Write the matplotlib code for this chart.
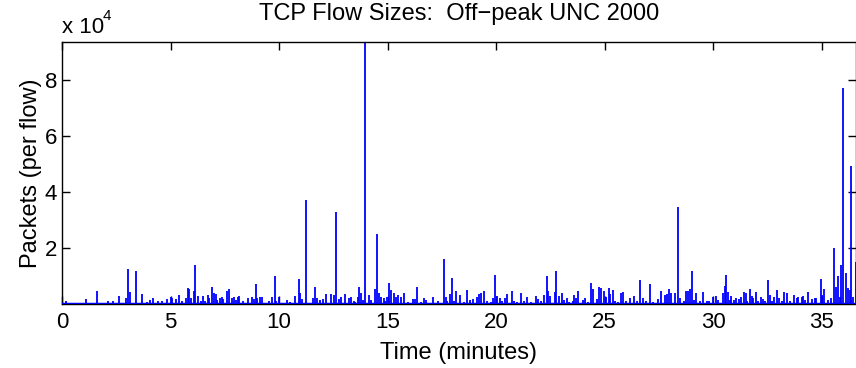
import numpy as np
import matplotlib
matplotlib.use('Agg')
import matplotlib.pyplot as plt

plt.rcParams['font.family'] = ['Liberation Sans', 'DejaVu Sans']

# flow start time (minutes) and flow size (packets)
t_min = [0.17, 1.09, 1.60, 2.13, 2.37, 2.61, 2.93, 3.03, 3.15, 3.41, 3.67, 3.93, 4.06, 4.18,
         4.44, 4.59, 4.85, 5.00, 5.08, 5.24, 5.38, 5.53, 5.71, 5.79, 5.85, 5.94, 6.07, 6.14,
         6.27, 6.41, 6.48, 6.60, 6.71, 6.79, 6.91, 7.00, 7.08, 7.16, 7.28, 7.36,
         7.40, 7.62, 7.71, 7.83, 7.91, 8.02, 8.11, 8.17, 8.33, 8.57, 8.74, 8.83, 8.93, 9.00,
         9.11, 9.22, 9.52, 9.68, 9.80, 9.88, 10.01, 10.37, 10.52, 10.72, 10.91, 10.98, 11.06,
         11.26, 11.55, 11.66, 11.75, 11.87, 12.01, 12.15, 12.40, 12.53, 12.61, 12.78, 12.87,
         13.06, 13.21, 13.30, 13.44, 13.52, 13.64, 13.67, 13.76, 13.86, 13.96, 14.13, 14.23,
         14.41, 14.52, 14.59, 14.71, 14.82, 14.90,
         14.99, 15.08, 15.17, 15.30, 15.39, 15.48, 15.61, 15.76, 15.94, 16.16, 16.25, 16.37,
         16.53, 16.68, 16.79, 17.11, 17.30, 17.60, 17.68, 17.76, 17.88, 17.97, 18.06, 18.14,
         18.34, 18.53, 18.68, 18.80, 18.95, 19.11, 19.20, 19.31, 19.46, 19.60, 19.75, 19.86,
         19.94, 20.03, 20.17, 20.29, 20.40, 20.52, 20.71, 20.83, 20.95, 21.14, 21.29, 21.44,
         21.63, 21.83, 21.95, 22.06, 22.21, 22.34, 22.41,
         22.50, 22.69, 22.77, 22.92, 23.03, 23.15, 23.26, 23.38, 23.53, 23.61, 23.69, 23.76,
         24.00, 24.11, 24.23, 24.35, 24.48, 24.64, 24.73, 24.81, 24.95, 25.07, 25.19, 25.25,
         25.38, 25.50, 25.61, 25.76, 25.84, 25.99, 26.18, 26.37, 26.48, 26.64, 26.76, 26.91,
         27.11, 27.22, 27.45, 27.60, 27.79, 27.87, 27.96, 28.05, 28.22, 28.40, 28.49, 28.65,
         28.76, 28.86, 28.95, 29.02, 29.11, 29.22, 29.37, 29.55, 29.71, 29.83,
         30.00, 30.15, 30.23, 30.46, 30.54, 30.58, 30.66, 30.77, 30.84, 30.97, 31.07, 31.20,
         31.30, 31.40, 31.51, 31.58, 31.69, 31.77, 31.84, 31.97, 32.07, 32.20, 32.30, 32.41,
         32.53, 32.61, 32.72, 32.81, 32.92, 33.03, 33.15, 33.27, 33.38, 33.53, 33.73, 33.84,
         33.92, 34.07, 34.15, 34.25, 34.39, 34.53, 34.69, 34.76, 34.96, 35.02, 35.12, 35.30,
         35.45, 35.56, 35.65, 35.76, 35.84, 35.91, 35.98, 36.14, 36.22, 36.29, 36.33, 36.37,
         36.46, 36.56]
packets = [1200, 1800, 4800, 950, 1200, 2900, 2100, 12400, 4300, 11700, 3600, 850, 1400, 2000,
           950, 1200, 1700, 2600, 2000, 1700, 3200, 1200, 2000, 5600, 5500, 2300, 4500, 13800,
           3000, 1200, 2900, 1200, 3200, 2000, 6100, 3800, 3600, 1400, 2000, 2600,
           1700, 4800, 5200, 2000, 2400, 1400, 2400, 2900, 1200, 2000, 2400, 1700, 7000, 2000,
           2400, 2400, 1200, 2600, 10100, 1200, 2600, 1400, 850, 3000, 8900, 4000, 1700,
           37100, 2300, 6000, 2000, 1400, 1800, 3500, 3500, 3200, 33000, 1700, 2400,
           3500, 2300, 2600, 1200, 850, 2600, 6200, 3800, 1400, 93570, 3100, 1400,
           5200, 25000, 3800, 2400, 2000, 1200,
           2600, 7600, 5000, 3800, 2600, 3200, 2400, 4000, 850, 1700, 1700, 6200,
           850, 2300, 1400, 2600, 1100, 16000, 2600, 1100, 3600, 9400, 1100, 4600,
           3100, 850, 4900, 1400, 1800, 2600, 3600, 3800, 4500, 1200, 850, 2000,
           10400, 2900, 2000, 1200, 2300, 3600, 4600, 1200, 850, 4000, 1200, 2400,
           850, 2900, 1700, 1200, 3200, 10100, 4800,
           2900, 4400, 11700, 2900, 3800, 1400, 2000, 850, 1200, 3200, 2000, 4600,
           1400, 2000, 850, 7400, 5200, 1800, 6000, 5600, 4600, 2600, 5600, 3600,
           5000, 1200, 850, 4000, 4300, 1200, 2000, 2900, 1200, 8600, 2000, 1100,
           7100, 850, 1700, 4800, 3200, 3500, 5200, 3800, 4000, 34500, 2000, 1200,
           4600, 4600, 5200, 11900, 1400, 4000, 1200, 4400, 1200, 1200,
           2600, 2900, 1400, 3800, 6400, 10200, 4300, 1400, 2900, 1400, 2300, 1700,
           2600, 4300, 3800, 1200, 5200, 2900, 2300, 4300, 1200, 2400, 1900, 1200,
           8600, 3200, 1200, 2600, 5000, 2000, 1200, 4300, 3800, 1100, 3100, 2000,
           2600, 2600, 3000, 1400, 4300, 1700, 2000, 2300, 8800, 3200, 5200, 1400,
           2000, 20000, 6200, 10000, 2600, 13900, 77000, 11000, 5600, 5000, 49300, 1400,
           2600, 15100]

x_ticks = [0, 5, 10, 15, 20, 25, 30, 35]
y_ticks = [20000, 40000, 60000, 80000]
y_tick_labels = ['2', '4', '6', '8']

fig = plt.figure(figsize=(8.56, 3.68), dpi=100)
ax = fig.add_axes([62/856, 1-304/368, 1-62/856, (304-42)/368])

ax.vlines(t_min, 0, packets, color='#0000ff', lw=1.3)
ax.axhline(0, color='#0000ff', lw=2.5, zorder=3)

ax.set_xlim(0, 36.58)
ax.set_ylim(0, max(packets))
ax.set_xticks(x_ticks)
ax.set_yticks(y_ticks)
ax.set_yticklabels(y_tick_labels)
ax.tick_params(direction='in', length=6, width=1, labelsize=16, top=True, right=True)
ax.tick_params(axis='x', pad=6)
for s in ax.spines.values():
    s.set_linewidth(1)

ax.set_xlabel('Time (minutes)', fontsize=17, labelpad=6)
ax.set_ylabel('Packets (per flow)', fontsize=17, labelpad=2)
ax.set_title('TCP Flow Sizes:  Off\u2212peak UNC 2000', fontsize=17, pad=16)

fig.text(62/856, 1-33/368, 'x 10', fontsize=16, ha='left', va='baseline')
fig.text(103/856, 1-20/368, '4', fontsize=11, ha='left', va='baseline')

fig.savefig('out.png', dpi=100)
